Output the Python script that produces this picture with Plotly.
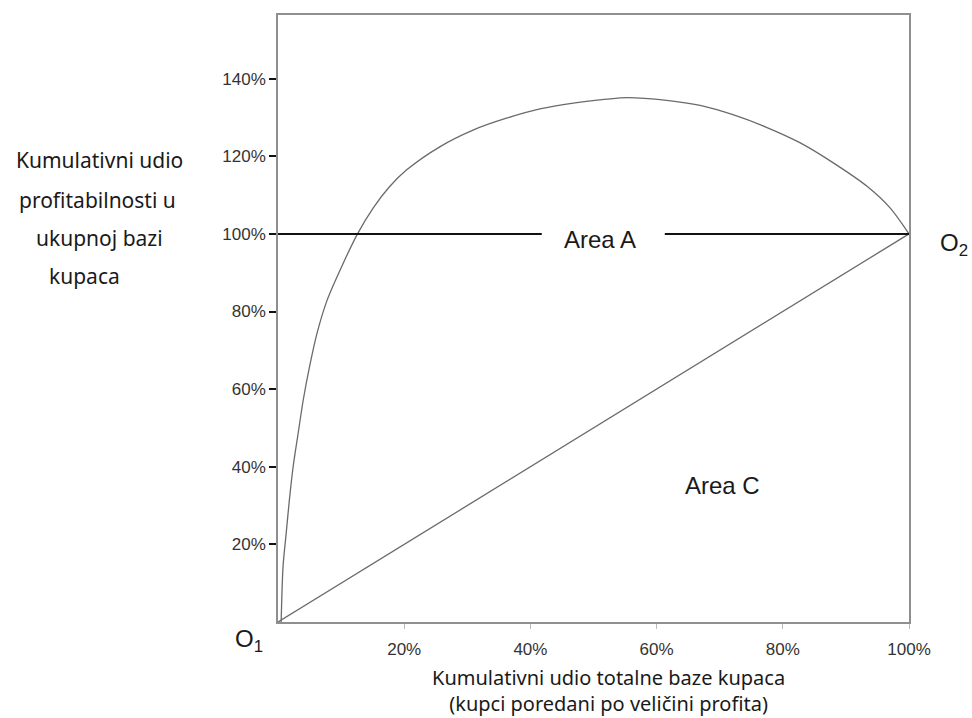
import plotly.graph_objects as go

# ---- data (percent units) ----
curve_x = [0.5, 0.8, 1.3, 1.8, 2.4, 3.2, 4.0, 5.0, 6.2, 7.8, 10.1, 12.6, 15.1, 17.7, 20.4,
           25.7, 31.0, 36.2, 41.5, 46.8, 52.1, 55.3, 61.6, 66.9, 72.1, 77.5, 82.7, 88.0,
           93.4, 97.0, 100.0]
curve_y = [0.0, 14.3, 22.9, 31.4, 40.0, 48.7, 57.2, 65.8, 74.5, 83.0, 91.6, 100.0, 106.7,
           112.2, 116.5, 122.5, 126.8, 129.8, 132.2, 133.7, 134.7, 135.1, 134.4, 133.1,
           130.7, 127.4, 123.5, 118.3, 112.2, 106.7, 100.0]

diag_x = [0, 100]
diag_y = [0, 100]

hline_x = [0, 41.8, None, 61.3, 100]
hline_y = [100, 100, None, 100, 100]

x_ticks = [20, 40, 60, 80, 100]
x_ticklabels = ["20%", "40%", "60%", "80%", "100%"]
y_ticks = [20, 40, 60, 80, 100, 120, 140]
y_ticklabels = ["20%", "40%", "60%", "80%", "100%", "120%", "140%"]

ylabel_lines = ["Kumulativni udio", "profitabilnosti u", "ukupnoj bazi", "kupaca"]
xlabel_lines = ["Kumulativni udio totalne baze kupaca", "(kupci poredani po veličini profita)"]

fig = go.Figure()
fig.add_trace(go.Scatter(x=curve_x, y=curve_y, mode="lines",
                         line=dict(color="#6a6a6a", width=1.3, shape="spline", smoothing=0.8),
                         hoverinfo="skip", showlegend=False))
fig.add_trace(go.Scatter(x=diag_x, y=diag_y, mode="lines",
                         line=dict(color="#6a6a6a", width=1.3),
                         hoverinfo="skip", showlegend=False))
fig.add_trace(go.Scatter(x=hline_x, y=hline_y, mode="lines",
                         line=dict(color="#111111", width=2),
                         hoverinfo="skip", showlegend=False))

tick_font = dict(family="Liberation Sans, Arial", size=17, color="#333333")
text_font = dict(family="Noto Sans, Open Sans, sans-serif", size=21, color="#1a1a1a")
xtitle_font = dict(family="Noto Sans, Open Sans, sans-serif", size=20, color="#1a1a1a")
area_font = dict(family="Liberation Sans, Arial", size=24, color="#1a1a1a")

annotations = [
    dict(text="Area A", x=51.0, y=98.5, xref="x", yref="y", showarrow=False,
         font=area_font, xanchor="center", yanchor="middle"),
    dict(text="Area C", x=70.4, y=35.3, xref="x", yref="y", showarrow=False,
         font=area_font, xanchor="center", yanchor="middle"),
    dict(text="O<sub>2</sub>", x=1.046, y=0.622, xref="paper", yref="paper", showarrow=False,
         font=area_font, xanchor="left", yanchor="middle"),
    dict(text="O<sub>1</sub>", x=-0.0713, y=-0.03, xref="paper", yref="paper", showarrow=False,
         font=area_font, xanchor="left", yanchor="middle"),
]

ylab_pos = [(-0.2821, 0.7611), (-0.2868, 0.6952), (-0.2821, 0.6326), (-0.3059, 0.5700)]
for line, (px, py) in zip(ylabel_lines, ylab_pos):
    annotations.append(dict(text=line, x=px, y=py, xref="paper", yref="paper",
                            showarrow=False, font=text_font,
                            xanchor="center", yanchor="middle"))

annotations.append(dict(text="<br>".join(xlabel_lines), x=0.523, y=-0.113,
                        xref="paper", yref="paper", showarrow=False, font=xtitle_font,
                        xanchor="center", yanchor="middle", align="center"))

fig.update_layout(
    width=972, height=718, autosize=False,
    margin=dict(l=278, r=63, t=15, b=96),
    paper_bgcolor="white", plot_bgcolor="white",
    annotations=annotations,
    xaxis=dict(range=[0, 100], tickvals=x_ticks, ticktext=x_ticklabels,
               showgrid=False, zeroline=False, showline=True, mirror=True,
               linecolor="#8f8f8f", linewidth=1.6,
               ticks="outside", ticklen=5, tickcolor="#bbbbbb", tickwidth=1,
               tickfont=tick_font, ticklabelstandoff=6, fixedrange=True),
    yaxis=dict(range=[0, 156.4], tickvals=y_ticks, ticktext=y_ticklabels,
               showgrid=False, zeroline=False, showline=True, mirror=True,
               linecolor="#8f8f8f", linewidth=1.6,
               ticks="outside", ticklen=7, tickcolor="#111111", tickwidth=1.5,
               tickfont=tick_font, fixedrange=True),
)

fig.write_html("out.html", config={"displayModeBar": False})

# remove the default page margin so the figure sits at the window's top-left corner
with open("out.html", "r", encoding="utf-8") as f:
    html = f.read()
html = html.replace("<head>", "<head><style>html,body{margin:0;padding:0;overflow:hidden;}</style>", 1)
with open("out.html", "w", encoding="utf-8") as f:
    f.write(html)
